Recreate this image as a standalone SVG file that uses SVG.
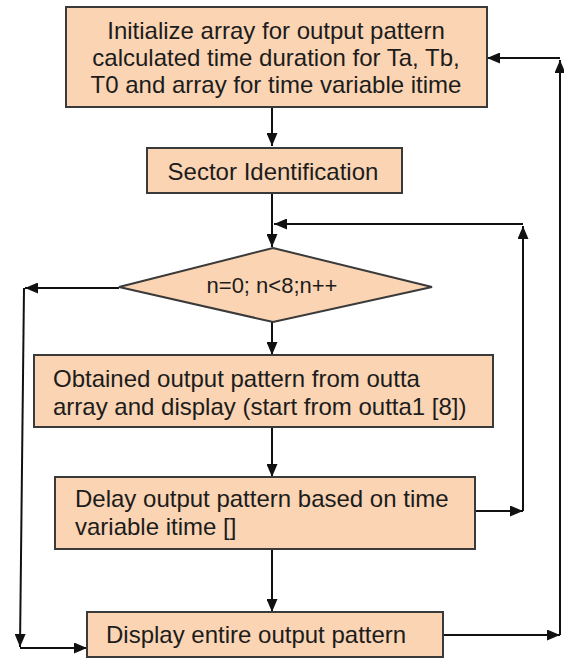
<svg xmlns="http://www.w3.org/2000/svg" width="564" height="660" viewBox="0 0 564 660">
  <style>
    .box { fill: #fad4b3; stroke: #3a3a3a; stroke-width: 2; }
    .lbl { font-family: "Liberation Sans", Arial, sans-serif; font-size: 24px; fill: #1c1c1c; }
    .mid { text-anchor: middle; }
    .wire { fill: none; stroke: #111; stroke-width: 2; marker-end: url(#head); }
  </style>
  <defs>
    <marker id="head" viewBox="0 0 13 11" refX="13" refY="5.5" markerWidth="13" markerHeight="11" markerUnits="userSpaceOnUse" orient="auto">
      <path d="M0,0 L13,5.5 L0,11 Z" fill="#111"/>
    </marker>
  </defs>

  <rect width="564" height="660" fill="#ffffff"/>

  <!-- flow connectors -->
  <g id="connectors">
    <path class="wire" d="M272,107 V146"/>
    <path class="wire" d="M272,193 V247"/>
    <path class="wire" d="M272,322 V355"/>
    <path class="wire" d="M272,427 V477"/>
    <path class="wire" d="M272,549 V612"/>
    <!-- inner loop back to the for-test -->
    <path class="wire" d="M475,511 H523"/>
    <path class="wire" d="M523,511 V226"/>
    <path class="wire" d="M523,224 H274"/>
    <!-- loop exit to final display -->
    <path class="wire" d="M119,288 H25"/>
    <path class="wire" d="M24,288 L20,647"/>
    <path class="wire" d="M20,648 H87"/>
    <!-- outer loop back to initialisation -->
    <path class="wire" d="M443,635 H560"/>
    <path class="wire" d="M560,635 V60"/>
    <path class="wire" d="M560,58 H487"/>
  </g>

  <g id="init">
    <rect class="box" x="66" y="7" width="421" height="100"/>
    <text class="lbl mid" x="276" y="39">Initialize array for output pattern</text>
    <text class="lbl mid" x="276" y="66">calculated time duration for Ta, Tb,</text>
    <text class="lbl mid" x="276" y="93">T0 and array for time variable itime</text>
  </g>

  <g id="sector">
    <rect class="box" x="147" y="148" width="255" height="45"/>
    <text class="lbl mid" x="273" y="180">Sector Identification</text>
  </g>

  <g id="loop-test">
    <polygon class="box" points="273,248 432,287 273,322 119,287"/>
    <text class="lbl mid" x="272" y="293" style="font-size:22px">n=0; n&lt;8;n++</text>
  </g>

  <g id="obtain">
    <rect class="box" x="34" y="355" width="459" height="72"/>
    <text class="lbl" x="53" y="387">Obtained output pattern from outta</text>
    <text class="lbl" x="53" y="415">array and display (start from outta1 [8])</text>
  </g>

  <g id="delay">
    <rect class="box" x="55" y="477" width="420" height="72"/>
    <text class="lbl" x="75" y="507">Delay output pattern based on time</text>
    <text class="lbl" x="75" y="535">variable itime []</text>
  </g>

  <g id="display">
    <rect class="box" x="87" y="612" width="356" height="45"/>
    <text class="lbl" x="106" y="643">Display entire output pattern</text>
  </g>
</svg>
